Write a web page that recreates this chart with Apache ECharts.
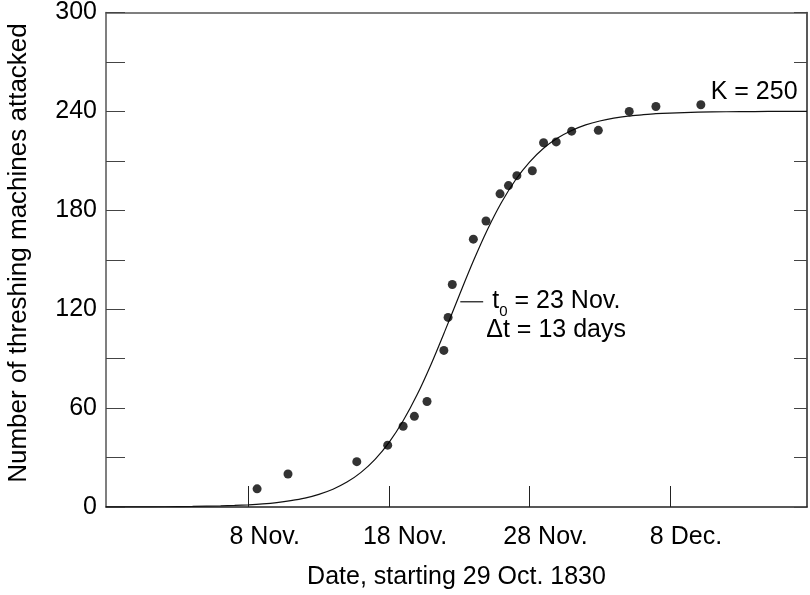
<!DOCTYPE html>
<html>
<head>
<meta charset="utf-8">
<script src="https://cdn.jsdelivr.net/npm/echarts@6/dist/echarts.min.js"></script>
<style>
html,body{margin:0;padding:0;background:#fff;}
#chart{width:810px;height:595px;}
</style>
</head>
<body>
<div id="chart"></div>
<script>
// Observed data: day since 29 Oct 1830, cumulative machines attacked
const obsDays = [10.6, 12.8, 17.7, 19.9, 21.0, 21.8, 22.7, 23.9, 24.2, 24.5, 26.0, 26.9, 27.9, 28.5, 29.1, 30.2, 31.0, 31.9, 33.0, 34.9, 37.1, 39.0, 42.2];
const obsCounts = [11, 20, 27.5, 37.5, 49, 55, 64, 95, 115, 135, 162.5, 173.5, 190, 195, 201, 204, 221, 221.5, 228, 228.5, 240, 243, 244];

// Fitted curve at day positions
const curveDays = [-0.16, 2, 4, 6, 8, 9, 10, 11, 12, 13, 14, 15, 16, 17, 18, 19, 20, 21, 22, 23, 24, 25, 26, 27, 28, 29, 30, 31, 32, 33, 34, 35, 36, 37, 38, 39, 40, 42, 44, 46, 48, 49.76];
const curveValues = [0.04, 0.08, 0.16, 0.33, 0.66, 0.94, 1.34, 1.9, 2.7, 3.85, 5.4, 7.7, 10.8, 15.1, 21.0, 28.9, 39.2, 52.3, 68.2, 86.8, 107.3, 128.5, 149.2, 168.2, 184.7, 198.4, 209.2, 217.6, 223.8, 228.4, 231.8, 234.2, 235.9, 237.1, 237.9, 238.6, 239.0, 239.5, 239.8, 239.9, 240, 240];

// Axis ticks and labels
const xTickDays = [10, 20, 30, 40];
const xTickLabels = ['8 Nov.', '18 Nov.', '28 Nov.', '8 Dec.'];
const yMin = 0, yMax = 300, yMinorStep = 30, yLabelStep = 60;

const xTitle = 'Date, starting 29 Oct. 1830';
const yTitle = 'Number of threshing machines attacked';

// Annotations (data coordinates)
const kLabel = 'K = 250';
const kAnchor = [42.9, 252];
const t0Anchor = [27.35, 125];
const dtLabel = '\u0394t = 13 days';
const dtAnchor = [26.92, 107.5];
const leaderFrom = [25.07, 124.5];
const leaderTo = [26.7, 124.5];

const FONT = '"Liberation Sans", Arial, Helvetica, sans-serif';
const FS = 25;

const chart = echarts.init(document.getElementById('chart'), null, {renderer: 'canvas'});

const curveData = curveDays.map((d, i) => [d, curveValues[i]]);
const obsData = obsDays.map((d, i) => [d, obsCounts[i]]);

const xMin = -0.16, xMax = 49.76;

chart.setOption({
  animation: false,
  backgroundColor: '#fff',
  grid: {left: 106, right: 3, top: 10, bottom: 84, containLabel: false},
  xAxis: [{
    type: 'value', min: xMin, max: xMax, position: 'bottom',
    name: xTitle, nameLocation: 'middle', nameGap: 58,
    nameTextStyle: {fontFamily: FONT, fontSize: FS, color: '#000'},
    axisLine: {show: true, onZero: false, lineStyle: {color: '#222', width: 1.5}},
    axisTick: {show: true, inside: true, length: 21, lineStyle: {color: '#222', width: 1}, customValues: xTickDays},
    axisLabel: {show: true, customValues: xTickDays, margin: 18, fontFamily: FONT, fontSize: FS, color: '#000',
      padding: [0, 0, 0, 32],
      formatter: v => { const i = xTickDays.indexOf(Math.round(v)); return i >= 0 ? xTickLabels[i] : ''; }},
    splitLine: {show: false}
  }, {
    type: 'value', min: xMin, max: xMax, position: 'top',
    axisLine: {show: true, onZero: false, lineStyle: {color: '#555', width: 1.5}},
    axisTick: {show: false}, axisLabel: {show: false}, splitLine: {show: false}
  }],
  yAxis: [{
    type: 'value', min: yMin, max: yMax, interval: yMinorStep, position: 'left',
    axisLine: {show: true, onZero: false, lineStyle: {color: '#555', width: 1.5}},
    axisTick: {show: true, inside: true, length: 19, lineStyle: {color: '#444', width: 1}},
    axisLabel: {show: true, margin: 9, fontFamily: FONT, fontSize: FS, color: '#000',
      formatter: v => (v % yLabelStep === 0 ? String(v) : '')},
    splitLine: {show: false}
  }, {
    type: 'value', min: yMin, max: yMax, interval: yMinorStep, position: 'right',
    axisLine: {show: true, onZero: false, lineStyle: {color: '#222', width: 1.5}},
    axisTick: {show: true, inside: true, length: 13, lineStyle: {color: '#444', width: 1}},
    axisLabel: {show: false}, splitLine: {show: false}
  }],
  series: [{
    type: 'line', data: curveData, smooth: 0.3, showSymbol: false, symbol: 'none',
    lineStyle: {color: '#111', width: 1.2}, z: 2
  }, {
    type: 'scatter', data: obsData, symbol: 'circle', symbolSize: 9,
    itemStyle: {color: '#000'}, z: 3
  }]
});

function px(p) { return chart.convertToPixel({xAxisIndex: 0, yAxisIndex: 0}, p); }
const kP = px(kAnchor), tP = px(t0Anchor), dP = px(dtAnchor), lA = px(leaderFrom), lB = px(leaderTo);

chart.setOption({
  graphic: [{
    type: 'text', rotation: Math.PI / 2, x: 19, y: 253,
    style: {text: yTitle, fontFamily: FONT, fontSize: 26, fill: '#000', align: 'center', verticalAlign: 'middle'}
  }, {
    type: 'text', x: kP[0], y: kP[1],
    style: {text: kLabel, fontFamily: FONT, fontSize: FS, fill: '#000', align: 'left', verticalAlign: 'middle'}
  }, {
    type: 'text', x: tP[0], y: tP[1],
    style: {
      text: '{a|t}{s|0}{a| = 23 Nov.}',
      align: 'left', verticalAlign: 'middle',
      rich: {
        a: {fontFamily: FONT, fontSize: FS, color: '#000'},
        s: {fontFamily: FONT, fontSize: 15, color: '#000', verticalAlign: 'bottom', padding: [0, 0, -6, 0]}
      }
    }
  }, {
    type: 'text', x: dP[0], y: dP[1],
    style: {text: dtLabel, fontFamily: FONT, fontSize: FS, fill: '#000', align: 'left', verticalAlign: 'middle'}
  }, {
    type: 'line', shape: {x1: lA[0], y1: lA[1], x2: lB[0], y2: lB[1]},
    style: {stroke: '#111', lineWidth: 1.2}
  }]
});
</script>
</body>
</html>
